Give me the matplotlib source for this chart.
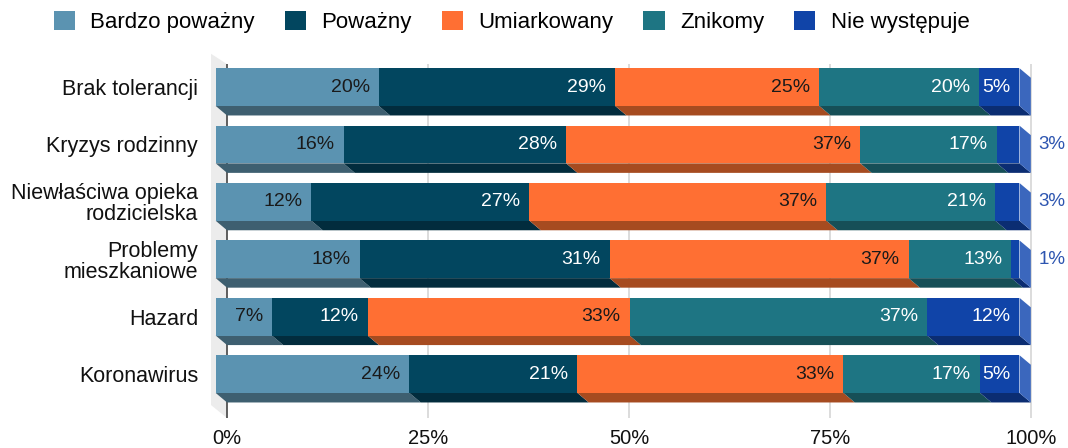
import matplotlib
matplotlib.use("Agg")
from matplotlib import pyplot as plt
from matplotlib.patches import Polygon, Patch

plt.rcParams['font.family'] = ['Liberation Sans', 'DejaVu Sans']

categories = ["Brak tolerancji", "Kryzys rodzinny", "Niewłaściwa opieka\nrodzicielska",
              "Problemy\nmieszkaniowe", "Hazard", "Koronawirus"]
series_names = ["Bardzo poważny", "Poważny", "Umiarkowany", "Znikomy", "Nie występuje"]

bardzo_powazny = [20.3, 15.9, 11.9, 17.9, 7.0, 24.1]
powazny = [29.4, 27.7, 27.1, 31.1, 11.9, 20.9]
umiarkowany = [25.4, 36.6, 36.9, 37.2, 32.6, 33.1]
znikomy = [19.9, 17.0, 21.0, 12.8, 37.0, 17.0]
nie_wystepuje = [5.0, 2.8, 3.0, 1.0, 11.5, 4.9]

x_ticks = [0, 25, 50, 75, 100]
x_tick_labels = ["0%", "25%", "50%", "75%", "100%"]

front_colors = ["#5b93b1", "#02465f", "#ff6f33", "#1e7583", "#1044a8"]
bottom_colors = ["#3e5f70", "#022c3d", "#a64b20", "#164f57", "#0b2d72"]
side_colors = ["#4a7a92", "#0b3a4e", "#d85f2a", "#1a6470", "#3b67bd"]
text_colors = ["#1a1a1a", "white", "#1a1a1a", "white", "white"]
outside_color = "#2d55b0"

# 3d look: back plane is shifted right and down
DX = 1.41      # in percent units
DY = 0.166     # in category units
BAR_H = 0.657
PAD = 1.12
X_MAX = 101.6

all_series = [bardzo_powazny, powazny, umiarkowany, znikomy, nie_wystepuje]

PX_PER_PCT = 8.038
fig = plt.figure(figsize=(10.68, 4.48), dpi=100)
ax = fig.add_axes([215.7 / 1068, 1 - 418 / 448, X_MAX * PX_PER_PCT / 1068, (418 - 55) / 448])
for s in ax.spines.values():
    s.set_visible(False)

# left wall
wall = Polygon([(-0.58, -0.58), (DX, -0.40), (DX, 5.765), (-0.58, 5.54)],
               closed=True, facecolor="#ececec", edgecolor="none", zorder=0, clip_on=False)
ax.add_patch(wall)

# grid lines in back plane
for t in x_ticks:
    ax.plot([t + DX, t + DX], [-0.40, 5.765], color="#444444" if t == 0 else "#d6d6d6",
            lw=1.2, zorder=1, clip_on=False, solid_capstyle="butt")

for i in range(len(categories)):
    total = sum(s[i] for s in all_series)
    top = i - BAR_H / 2
    bot = i + BAR_H / 2
    left = 0.0
    for k, s in enumerate(all_series):
        w = s[i] / total * 100
        right = left + w
        # bottom face
        ax.add_patch(Polygon([(left, bot), (right, bot), (right + DX, bot + DY), (left + DX, bot + DY)],
                             closed=True, facecolor=bottom_colors[k], edgecolor="none",
                             zorder=2, clip_on=False))
        # front face
        ax.add_patch(Polygon([(left, top), (right, top), (right, bot), (left, bot)],
                             closed=True, facecolor=front_colors[k], edgecolor="none",
                             zorder=3, clip_on=False))
        lbl = f"{round(s[i])}%"
        if s[i] < 4:
            ax.text(102.4, i, lbl, ha="left", va="center", fontsize=13.5,
                    color=outside_color, zorder=5, clip_on=False)
        else:
            ax.text(right - PAD, i, lbl, ha="right", va="center", fontsize=14,
                    color=text_colors[k], zorder=5, clip_on=False)
        left = right
    # right side face of the last segment
    ax.add_patch(Polygon([(100, top), (100 + DX, top + DY), (100 + DX, bot + DY), (100, bot)],
                         closed=True, facecolor=side_colors[-1], edgecolor="none",
                         zorder=2, clip_on=False))

ax.set_yticks(range(len(categories)), categories, fontsize=15.5, color="#111111")
for lbl in ax.get_yticklabels():
    lbl.set_linespacing(1.0)
ax.tick_params(axis="y", length=0, pad=12.7)
ax.set_xticks([t + DX for t in x_ticks], x_tick_labels, fontsize=14.5, color="#111111")
ax.tick_params(axis="x", length=0, pad=8)
# limits after ticks, so the ticks do not widen them
ax.set_xlim(0, X_MAX)
ax.set_ylim(5.765, -0.559)

handles = [Patch(facecolor=c, edgecolor="none") for c in front_colors]
fig.legend(handles, series_names, loc="upper center", bbox_to_anchor=(0.479, 1.0),
           ncol=5, frameon=False, fontsize=16, handlelength=0.95, handleheight=0.95,
           handletextpad=0.7, columnspacing=1.35, borderaxespad=0.1)

fig.savefig("out.png", dpi=100)
